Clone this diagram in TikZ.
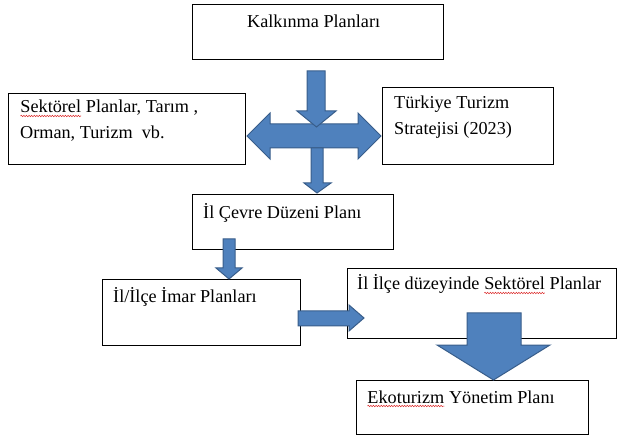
\documentclass[tikz,border=0pt]{standalone}
\usepackage{fontspec}
\setmainfont{Liberation Serif}
\usetikzlibrary{decorations.pathmorphing}
\definecolor{arrfill}{RGB}{79,129,189}
\definecolor{arrline}{RGB}{56,93,138}
\definecolor{spell}{RGB}{220,40,40}
\newcommand\squig[1]{\tikz[baseline=(sq.base)]{\node[inner sep=0pt,outer sep=0pt] (sq) {#1};
  \draw[spell,line width=0.5pt,decorate,decoration={snake,amplitude=0.7pt,segment length=2.6pt}]
    ([yshift=-3pt]sq.base west) -- ([yshift=-3pt]sq.base east);}}
\begin{document}
\begin{tikzpicture}[x=1pt,y=-1pt,
  box/.style={draw=black,fill=white,line width=0.8pt,anchor=north west,inner sep=0pt},
  txt/.style={anchor=base west,inner sep=0pt,font=\fontsize{18.2}{21}\selectfont},
  blockarrow/.style={fill=arrfill,draw=arrline,line width=1pt,line join=miter}]
\useasboundingbox (0,0) rectangle (618,435);
% boxes
\node[box,minimum width=251pt,minimum height=55pt] (kalk) at (192,4) {};
\node[box,minimum width=237pt,minimum height=71pt] (sekt) at (8,93) {};
\node[box,minimum width=171pt,minimum height=77pt] (turk) at (382,87) {};
\node[box,minimum width=201pt,minimum height=55pt] (cevre) at (192,194) {};
\node[box,minimum width=198pt,minimum height=66pt] (imar) at (102,279) {};
\node[box,minimum width=269pt,minimum height=70pt] (ilce) at (347,268) {};
\node[box,minimum width=232pt,minimum height=54pt] (eko) at (356,380) {};
% texts
\node[txt] (tkalk) at (247,28) {Kalkınma Planları};
\node[txt] (tsekt1) at (20,113) {\squig{Sektörel} Planlar, Tarım ,};
\node[txt] (tsekt2) at (20,139) {Orman, Turizm\ \ vb.};
\node[txt] (tturk1) at (394,109) {Türkiye Turizm};
\node[txt] (tturk2) at (394,135) {Stratejisi (2023)};
\node[txt] (tcevre) at (203,219) {İl Çevre Düzeni Planı};
\node[txt] (timar) at (113,303) {İl/İlçe İmar Planları};
\node[txt] (tilce) at (357,290) {İl İlçe düzeyinde \squig{Sektörel} Planlar};
\node[txt] (teko) at (367,403) {\squig{Ekoturizm} Yönetim Planı};
% block arrows
\draw[blockarrow] (247,136) -- (270,113) -- (270,124) -- (358,124) -- (358,113) -- (381,136)
  -- (358,159) -- (358,148) -- (270,148) -- (270,159) -- cycle;
\draw[blockarrow] (307,71) -- (325,71) -- (325,111) -- (336,111) -- (316.5,127) -- (297,111) -- (307,111) -- cycle;
\draw[blockarrow] (311,148) -- (323,148) -- (323,183) -- (331,183) -- (317,193) -- (304,183) -- (311,183) -- cycle;
\draw[blockarrow] (223,239) -- (235,239) -- (235,268) -- (242,268) -- (229,279) -- (216,268) -- (223,268) -- cycle;
\draw[blockarrow] (298,311) -- (349,311) -- (349,305) -- (364,318) -- (349,331) -- (349,326) -- (298,326) -- cycle;
\draw[blockarrow] (467,313) -- (521,313) -- (521,345) -- (550,345) -- (493.5,380) -- (437,345) -- (467,345) -- cycle;
\end{tikzpicture}
\end{document}
